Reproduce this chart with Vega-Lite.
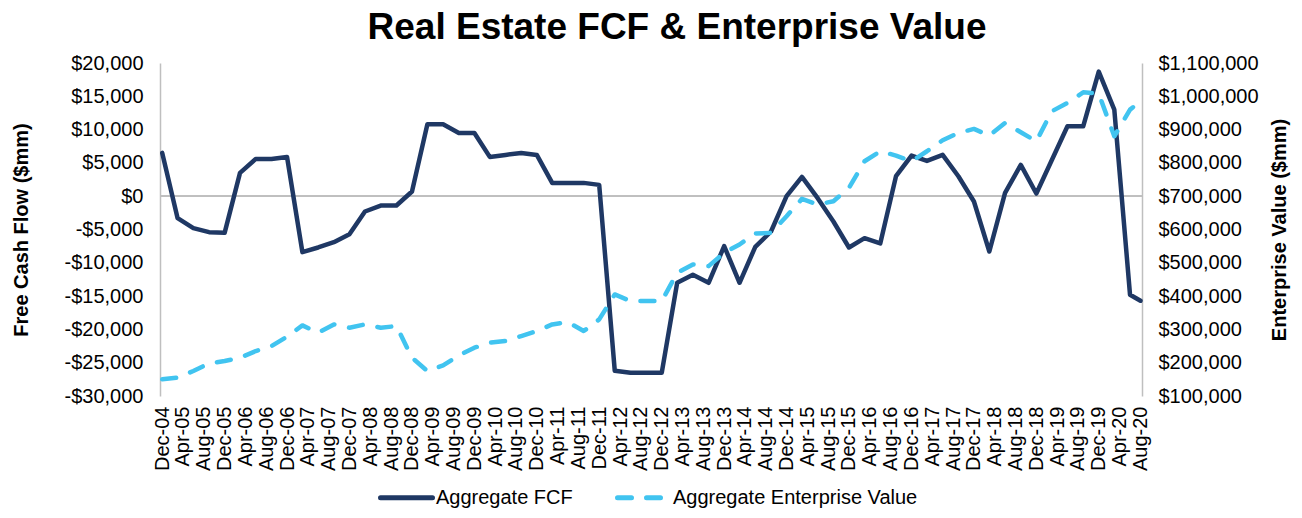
{
  "$schema": "https://vega.github.io/schema/vega-lite/v6.json",
  "width": 982,
  "height": 333,
  "autosize": {"type": "none"},
  "padding": {"left": 160, "top": 63, "right": 160, "bottom": 122},
  "background": "white",
  "config": {"font": "Liberation Sans", "view": {"stroke": null}},
  "title": {"text": "Real Estate FCF & Enterprise Value", "fontSize": 37, "fontWeight": "bold", "font": "Liberation Sans", "color": "#000000", "anchor": "middle", "frame": "group", "dx": 26, "offset": 6},
  "data": {
    "format": {"parse": {"date": "date:'%Y-%m-%d'"}},
    "values": [
      {"date": "2004-12-01", "fcf": 6500, "ev": 150000},
      {"date": "2005-03-01", "fcf": -3300, "ev": 155000},
      {"date": "2005-06-01", "fcf": -4800, "ev": 175000},
      {"date": "2005-09-01", "fcf": -5400, "ev": 198000},
      {"date": "2005-12-01", "fcf": -5500, "ev": 205000},
      {"date": "2006-03-01", "fcf": 3500, "ev": 215000},
      {"date": "2006-06-01", "fcf": 5600, "ev": 235000},
      {"date": "2006-09-01", "fcf": 5600, "ev": 250000},
      {"date": "2006-12-01", "fcf": 5900, "ev": 278000},
      {"date": "2007-03-01", "fcf": -8400, "ev": 312000},
      {"date": "2007-06-01", "fcf": -7700, "ev": 290000},
      {"date": "2007-09-01", "fcf": -6900, "ev": 315000},
      {"date": "2007-12-01", "fcf": -5700, "ev": 305000},
      {"date": "2008-03-01", "fcf": -2300, "ev": 315000},
      {"date": "2008-06-01", "fcf": -1400, "ev": 305000},
      {"date": "2008-09-01", "fcf": -1400, "ev": 310000},
      {"date": "2008-12-01", "fcf": 700, "ev": 215000},
      {"date": "2009-03-01", "fcf": 10800, "ev": 175000},
      {"date": "2009-06-01", "fcf": 10800, "ev": 192000},
      {"date": "2009-09-01", "fcf": 9500, "ev": 222000},
      {"date": "2009-12-01", "fcf": 9500, "ev": 245000},
      {"date": "2010-03-01", "fcf": 5900, "ev": 260000},
      {"date": "2010-06-01", "fcf": 6200, "ev": 265000},
      {"date": "2010-09-01", "fcf": 6500, "ev": 280000},
      {"date": "2010-12-01", "fcf": 6200, "ev": 295000},
      {"date": "2011-03-01", "fcf": 2000, "ev": 315000},
      {"date": "2011-06-01", "fcf": 2000, "ev": 322000},
      {"date": "2011-09-01", "fcf": 2000, "ev": 295000},
      {"date": "2011-12-01", "fcf": 1700, "ev": 330000},
      {"date": "2012-03-01", "fcf": -26200, "ev": 405000},
      {"date": "2012-06-01", "fcf": -26500, "ev": 385000},
      {"date": "2012-09-01", "fcf": -26500, "ev": 385000},
      {"date": "2012-12-01", "fcf": -26500, "ev": 385000},
      {"date": "2013-03-01", "fcf": -13000, "ev": 470000},
      {"date": "2013-06-01", "fcf": -11800, "ev": 495000},
      {"date": "2013-09-01", "fcf": -13000, "ev": 490000},
      {"date": "2013-12-01", "fcf": -7500, "ev": 530000},
      {"date": "2014-03-01", "fcf": -13000, "ev": 555000},
      {"date": "2014-06-01", "fcf": -7600, "ev": 588000},
      {"date": "2014-09-01", "fcf": -5300, "ev": 590000},
      {"date": "2014-12-01", "fcf": 0, "ev": 640000},
      {"date": "2015-03-01", "fcf": 2900, "ev": 692000},
      {"date": "2015-06-01", "fcf": -300, "ev": 675000},
      {"date": "2015-09-01", "fcf": -3800, "ev": 685000},
      {"date": "2015-12-01", "fcf": -7700, "ev": 725000},
      {"date": "2016-03-01", "fcf": -6300, "ev": 805000},
      {"date": "2016-06-01", "fcf": -7100, "ev": 835000},
      {"date": "2016-09-01", "fcf": 3000, "ev": 822000},
      {"date": "2016-12-01", "fcf": 6100, "ev": 805000},
      {"date": "2017-03-01", "fcf": 5300, "ev": 835000},
      {"date": "2017-06-01", "fcf": 6200, "ev": 868000},
      {"date": "2017-09-01", "fcf": 3000, "ev": 890000},
      {"date": "2017-12-01", "fcf": -800, "ev": 902000},
      {"date": "2018-03-01", "fcf": -8300, "ev": 882000},
      {"date": "2018-06-01", "fcf": 500, "ev": 920000},
      {"date": "2018-09-01", "fcf": 4700, "ev": 892000},
      {"date": "2018-12-01", "fcf": 400, "ev": 865000},
      {"date": "2019-03-01", "fcf": 5400, "ev": 955000},
      {"date": "2019-06-01", "fcf": 10500, "ev": 980000},
      {"date": "2019-09-01", "fcf": 10500, "ev": 1012000},
      {"date": "2019-12-01", "fcf": 18700, "ev": 1008000},
      {"date": "2020-03-01", "fcf": 13000, "ev": 880000},
      {"date": "2020-06-01", "fcf": -14800, "ev": 960000},
      {"date": "2020-08-01", "fcf": -15700, "ev": 985000}
    ]
  },
  "encoding": {
    "x": {
      "field": "date",
      "type": "temporal",
      "scale": {"domain": [{"year": 2004, "month": 11, "date": 18}, {"year": 2020, "month": 8, "date": 10}]},
      "axis": {
        "orient": "bottom",
        "values": [
          {"year": 2004, "month": 12, "date": 1}, {"year": 2005, "month": 4, "date": 1}, {"year": 2005, "month": 8, "date": 1},
          {"year": 2005, "month": 12, "date": 1}, {"year": 2006, "month": 4, "date": 1}, {"year": 2006, "month": 8, "date": 1},
          {"year": 2006, "month": 12, "date": 1}, {"year": 2007, "month": 4, "date": 1}, {"year": 2007, "month": 8, "date": 1},
          {"year": 2007, "month": 12, "date": 1}, {"year": 2008, "month": 4, "date": 1}, {"year": 2008, "month": 8, "date": 1},
          {"year": 2008, "month": 12, "date": 1}, {"year": 2009, "month": 4, "date": 1}, {"year": 2009, "month": 8, "date": 1},
          {"year": 2009, "month": 12, "date": 1}, {"year": 2010, "month": 4, "date": 1}, {"year": 2010, "month": 8, "date": 1},
          {"year": 2010, "month": 12, "date": 1}, {"year": 2011, "month": 4, "date": 1}, {"year": 2011, "month": 8, "date": 1},
          {"year": 2011, "month": 12, "date": 1}, {"year": 2012, "month": 4, "date": 1}, {"year": 2012, "month": 8, "date": 1},
          {"year": 2012, "month": 12, "date": 1}, {"year": 2013, "month": 4, "date": 1}, {"year": 2013, "month": 8, "date": 1},
          {"year": 2013, "month": 12, "date": 1}, {"year": 2014, "month": 4, "date": 1}, {"year": 2014, "month": 8, "date": 1},
          {"year": 2014, "month": 12, "date": 1}, {"year": 2015, "month": 4, "date": 1}, {"year": 2015, "month": 8, "date": 1},
          {"year": 2015, "month": 12, "date": 1}, {"year": 2016, "month": 4, "date": 1}, {"year": 2016, "month": 8, "date": 1},
          {"year": 2016, "month": 12, "date": 1}, {"year": 2017, "month": 4, "date": 1}, {"year": 2017, "month": 8, "date": 1},
          {"year": 2017, "month": 12, "date": 1}, {"year": 2018, "month": 4, "date": 1}, {"year": 2018, "month": 8, "date": 1},
          {"year": 2018, "month": 12, "date": 1}, {"year": 2019, "month": 4, "date": 1}, {"year": 2019, "month": 8, "date": 1},
          {"year": 2019, "month": 12, "date": 1}, {"year": 2020, "month": 4, "date": 1}, {"year": 2020, "month": 8, "date": 1}
        ],
        "format": "%b-%y",
        "labelAngle": 270,
        "labelFontSize": 20,
        "labelColor": "#000000",
        "labelPadding": 10,
        "labelOverlap": false,
        "labelSeparation": 0,
        "labelFlush": false,
        "labelBound": false,
        "ticks": false,
        "domain": false,
        "grid": false,
        "title": null
      }
    }
  },
  "layer": [
    {
      "encoding": {
        "y": {
          "field": "fcf",
          "type": "quantitative",
          "scale": {"domain": [-30000, 20000], "nice": false, "zero": false},
          "axis": {
            "orient": "left",
            "values": [-30000, -25000, -20000, -15000, -10000, -5000, 0, 5000, 10000, 15000, 20000],
            "labelExpr": "datum.value < 0 ? '-$' + format(-datum.value, ',') : '$' + format(datum.value, ',')",
            "labelFontSize": 20,
            "labelColor": "#000000",
            "labelPadding": 17,
            "ticks": false,
            "grid": false,
            "domain": true,
            "domainColor": "#BFBFBF",
            "domainWidth": 1.5,
            "title": "Free Cash Flow ($mm)",
            "titleFontSize": 20,
            "titleFontWeight": "bold",
            "titleColor": "#000000",
            "titlePadding": 33
          }
        }
      },
      "layer": [
        {
          "mark": {"type": "rule", "color": "#BFBFBF", "strokeWidth": 1.5},
          "encoding": {
            "x": {"datum": {"year": 2004, "month": 11, "date": 18}, "type": "temporal"},
            "x2": {"datum": {"year": 2020, "month": 8, "date": 10}},
            "y": {"datum": 0, "type": "quantitative"}
          }
        },
        {
          "mark": {"type": "line", "strokeWidth": 4.5, "strokeJoin": "round", "strokeCap": "round"},
          "encoding": {
            "color": {
              "datum": "Aggregate FCF",
              "type": "nominal",
              "scale": {"domain": ["Aggregate FCF", "Aggregate Enterprise Value"], "range": ["#1F3864", "#41C4F0"]},
              "legend": {
                "orient": "none",
                "legendX": 218,
                "legendY": 406,
                "direction": "horizontal",
                "title": null,
                "symbolType": "stroke",
                "symbolSize": 2704,
                "symbolStrokeWidth": 5,
                "labelFontSize": 20,
                "labelColor": "#000000",
                "labelLimit": 400,
                "labelOffset": 1,
                "columnPadding": 34,
                "encode": {
                  "symbols": {
                    "update": {
                      "strokeDash": {"signal": "datum.value === 'Aggregate Enterprise Value' ? [14, 15] : [1, 0]"},
                      "strokeCap": {"value": "round"}
                    }
                  }
                }
              }
            }
          }
        }
      ]
    },
    {
      "mark": {"type": "line", "strokeWidth": 4.5, "strokeDash": [14, 15], "strokeCap": "round", "strokeJoin": "round"},
      "encoding": {
        "y": {
          "field": "ev",
          "type": "quantitative",
          "scale": {"domain": [100000, 1100000], "nice": false, "zero": false},
          "axis": {
            "orient": "right",
            "values": [100000, 200000, 300000, 400000, 500000, 600000, 700000, 800000, 900000, 1000000, 1100000],
            "labelExpr": "'$' + format(datum.value, ',')",
            "labelFontSize": 20,
            "labelColor": "#000000",
            "labelPadding": 16,
            "ticks": false,
            "grid": false,
            "domain": true,
            "domainColor": "#BFBFBF",
            "domainWidth": 1.5,
            "title": "Enterprise Value ($mm)",
            "titleAngle": 270,
            "titleFontSize": 20,
            "titleFontWeight": "bold",
            "titleColor": "#000000",
            "titlePadding": 31
          }
        },
        "color": {"datum": "Aggregate Enterprise Value", "type": "nominal"}
      }
    }
  ],
  "resolve": {"scale": {"y": "independent"}, "axis": {"y": "independent"}}
}
